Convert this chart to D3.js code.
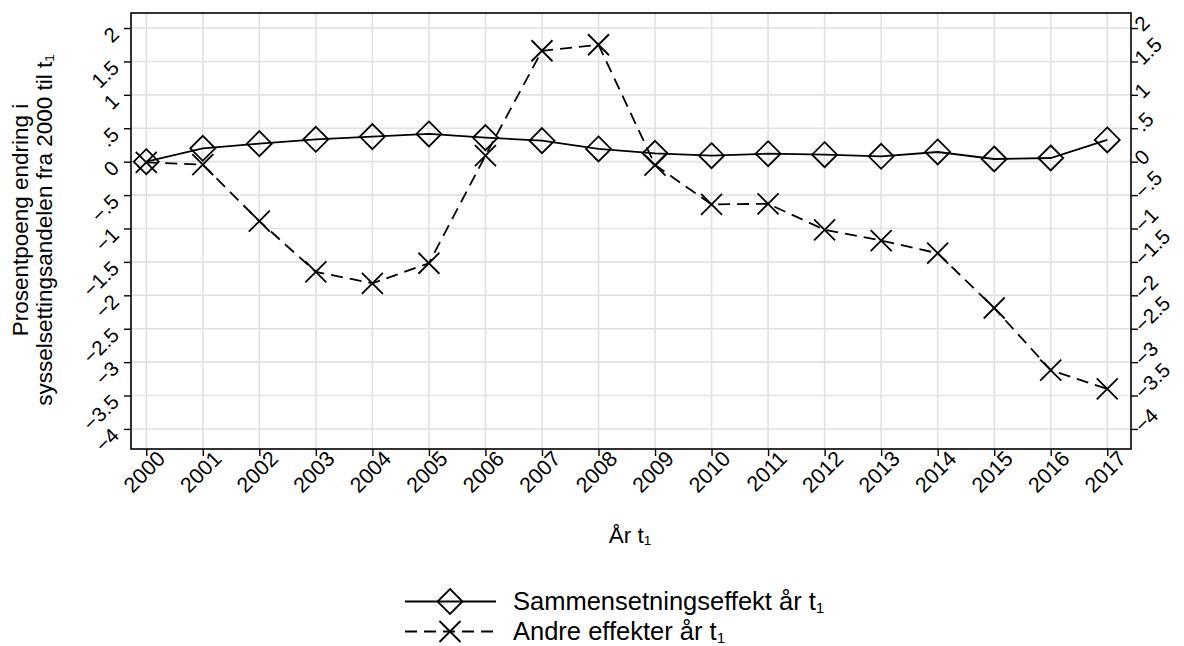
<!DOCTYPE html>
<html>
<head>
<meta charset="utf-8">
<script src="https://cdn.jsdelivr.net/npm/d3@7"></script>
<style>
  body { margin: 0; background: #fff; }
  text { font-family: "Liberation Sans", Arial, sans-serif; fill: #000; }
</style>
</head>
<body>
<svg id="chart" width="1184" height="646"></svg>
<script>
// years on x axis
var years = [2000, 2001, 2002, 2003, 2004, 2005, 2006, 2007, 2008,
  2009, 2010, 2011, 2012, 2013, 2014, 2015, 2016, 2017];
// Sammensetningseffekt (diamonds, solid)
var sammensetning = [0, 0.20, 0.27, 0.335, 0.375, 0.415, 0.36, 0.315, 0.19,
  0.125, 0.09, 0.12, 0.105, 0.08, 0.145, 0.04, 0.055, 0.325];
// Andre effekter (crosses, dashed)
var andre = [-0.01, -0.045, -0.89, -1.65, -1.82, -1.52, 0.09, 1.66, 1.75,
  -0.05, -0.64, -0.63, -1.02, -1.18, -1.37, -2.19, -3.12, -3.40];
var yTicks = [2, 1.5, 1, 0.5, 0, -0.5, -1, -1.5, -2, -2.5, -3, -3.5, -4];

var svg = d3.select("#chart");
var pLeft = 131, pRight = 1131, pTop = 13, pBottom = 449;

var x = d3.scaleLinear().domain([1999.73, 2017.42]).range([pLeft, pRight]);
var y = d3.scaleLinear().domain([-4.3, 2.225]).range([pBottom, pTop]);

function fmt(d) {
  if (d === 0) return "0";
  var s = String(Math.abs(d)).replace(/^0/, "");
  return (d < 0 ? "\u2212" : "") + s;
}

// grid
var grid = svg.append("g").attr("class", "grid");
grid.selectAll("line.h")
  .data(yTicks)
  .enter().append("line")
  .attr("x1", pLeft).attr("x2", pRight)
  .attr("y1", d => y(d)).attr("y2", d => y(d))
  .attr("stroke", "#e1e1e1").attr("stroke-width", 1.6);
grid.selectAll("line.v")
  .data(years)
  .enter().append("line")
  .attr("x1", d => x(d)).attr("x2", d => x(d))
  .attr("y1", pTop).attr("y2", pBottom)
  .attr("stroke", "#e1e1e1").attr("stroke-width", 1.6);

// axes
var yLeft = d3.axisLeft(y).tickValues(yTicks).tickSize(7).tickPadding(11).tickFormat(fmt);
var yRight = d3.axisRight(y).tickValues(yTicks).tickSize(7).tickPadding(1).tickFormat(fmt);
var xAxis = d3.axisBottom(x).tickValues(years).tickSize(7).tickFormat(d3.format("d"));

var gl = svg.append("g").attr("transform", "translate(" + pLeft + ",0)").call(yLeft);
var gr = svg.append("g").attr("transform", "translate(" + pRight + ",0)").call(yRight);
gl.selectAll(".tick text").attr("dy", "0.5em");
gr.selectAll(".tick text").attr("dy", "0.28em");
[gl, gr].forEach(function(g) {
  g.selectAll(".tick text")
    .attr("transform", function() {
      var tx = +d3.select(this).attr("x");
      return "rotate(-45," + tx + ",0)";
    });
});
var gx = svg.append("g").attr("transform", "translate(0," + pBottom + ")").call(xAxis);
gx.selectAll(".tick text")
  .attr("text-anchor", "end")
  .attr("dy", "0.5em")
  .attr("y", 11)
  .attr("x", 6)
  .attr("transform", "rotate(-45)");
[gl, gr, gx].forEach(function(g) {
  g.attr("font-size", null).attr("font-family", null);
  g.select(".domain").remove();
  g.selectAll(".tick line").attr("stroke", "#000").attr("stroke-width", 1.4);
  g.selectAll(".tick text").attr("font-size", 20.5).attr("fill", "#000");
});
gx.selectAll(".tick text").attr("font-size", 21.5);

// frame
svg.append("rect")
  .attr("x", pLeft).attr("y", pTop)
  .attr("width", pRight - pLeft).attr("height", pBottom - pTop)
  .attr("fill", "none").attr("stroke", "#000").attr("stroke-width", 1.6);

// lines
var line = d3.line().x((d, i) => x(years[i])).y(d => y(d));
svg.append("path").datum(sammensetning)
  .attr("d", line).attr("fill", "none").attr("stroke", "#000").attr("stroke-width", 1.8);
svg.append("path").datum(andre)
  .attr("d", line).attr("fill", "none").attr("stroke", "#000").attr("stroke-width", 1.8)
  .attr("stroke-dasharray", "12,7");

function diamond(g, cx, cy) {
  var r = 12.5;
  g.append("path")
    .attr("d", "M" + cx + "," + (cy - r) + "L" + (cx + r) + "," + cy + "L" + cx + "," + (cy + r) + "L" + (cx - r) + "," + cy + "Z")
    .attr("fill", "none").attr("stroke", "#000").attr("stroke-width", 1.8);
}
function cross(g, cx, cy) {
  var r = 10.5;
  g.append("path")
    .attr("d", "M" + (cx - r) + "," + (cy - r) + "L" + (cx + r) + "," + (cy + r) + "M" + (cx - r) + "," + (cy + r) + "L" + (cx + r) + "," + (cy - r))
    .attr("fill", "none").attr("stroke", "#000").attr("stroke-width", 1.8);
}
var marks = svg.append("g");
sammensetning.forEach((v, i) => diamond(marks, x(years[i]), y(v)));
andre.forEach((v, i) => cross(marks, x(years[i]), y(v)));

// titles
function subT(textSel, before) {
  textSel.append("tspan").text(before);
  textSel.append("tspan").text("1").attr("font-size", "0.6em").attr("dy", "0.18em");
}
var yt = svg.append("text")
  .attr("transform", "translate(28,220) rotate(-90)")
  .attr("text-anchor", "middle").attr("font-size", 22.5);
yt.text("Prosentpoeng endring i");
var yt2 = svg.append("text")
  .attr("transform", "translate(52,230) rotate(-90)")
  .attr("text-anchor", "middle").attr("font-size", 22.5);
subT(yt2, "sysselsettingsandelen fra 2000 til t");

var xt = svg.append("text")
  .attr("x", 630).attr("y", 543)
  .attr("text-anchor", "middle").attr("font-size", 22.5);
subT(xt, "År t");

// legend
var lg = svg.append("g");
lg.append("line").attr("x1", 405).attr("x2", 496).attr("y1", 601.5).attr("y2", 601.5)
  .attr("stroke", "#000").attr("stroke-width", 1.8);
diamond(lg, 450, 601.5);
lg.append("line").attr("x1", 405).attr("x2", 496).attr("y1", 631.5).attr("y2", 631.5)
  .attr("stroke", "#000").attr("stroke-width", 1.8).attr("stroke-dasharray", "12,7");
cross(lg, 450, 631.5);
var l1 = lg.append("text").attr("x", 513).attr("y", 610).attr("font-size", 25.5);
subT(l1, "Sammensetningseffekt år t");
var l2 = lg.append("text").attr("x", 513).attr("y", 640).attr("font-size", 25.5);
subT(l2, "Andre effekter år t");
</script>
</body>
</html>
